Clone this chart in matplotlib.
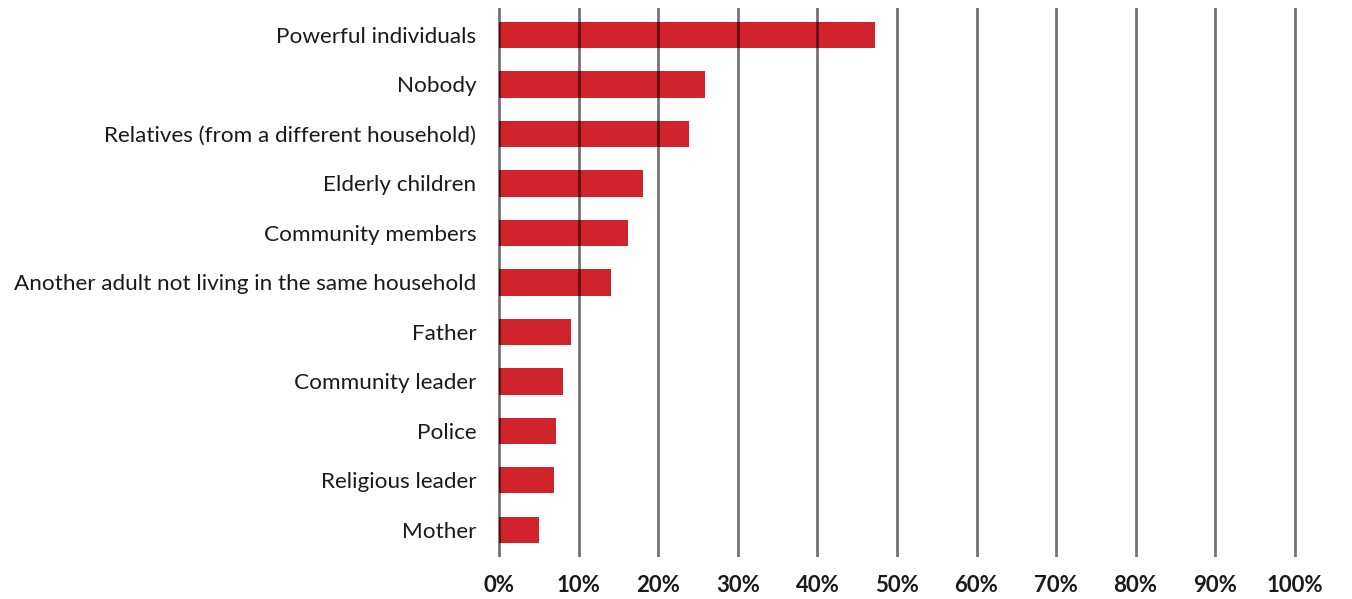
import matplotlib.pyplot as plt
import numpy as np

categories = [
    "Powerful individuals",
    "Nobody",
    "Relatives (from a different household)",
    "Elderly children",
    "Community members",
    "Another adult not living in the same household",
    "Father",
    "Community leader",
    "Police",
    "Religious leader",
    "Mother",
]
values = [47.2, 25.9, 23.8, 18.1, 16.2, 14.0, 9.0, 8.0, 7.1, 6.9, 5.0]
ticks = [0, 10, 20, 30, 40, 50, 60, 70, 80, 90, 100]
tick_labels = [f"{t}%" for t in ticks]

plt.rcParams['font.family'] = ['Lato', 'DejaVu Sans']

fig = plt.figure(figsize=(13.52, 5.99), dpi=100)
ax = fig.add_axes([0.3676, 0.070, 0.5917, 0.917])

y = np.arange(len(categories))
ax.barh(y, values, height=0.53, color='#d0232b', zorder=2)

# gridlines drawn over the bars
ax.vlines(ticks, -0.6, len(categories) - 0.4, color='black', alpha=0.55,
          linewidth=2, zorder=3)

ax.set_ylim(len(categories) - 0.45, -0.55)
ax.set_xlim(-0.3, 100.3)
ax.set_yticks(y)
ax.set_yticklabels(categories, fontsize=16.2, color='#1a1a1a')
ax.set_xticks(ticks)
ax.set_xticklabels(tick_labels, fontsize=16, fontweight='bold', color='#1a1a1a')
ax.tick_params(axis='y', length=0, pad=15)
ax.tick_params(axis='x', length=0, pad=13)
for s in ax.spines.values():
    s.set_visible(False)

fig.savefig("out.png", dpi=100)
